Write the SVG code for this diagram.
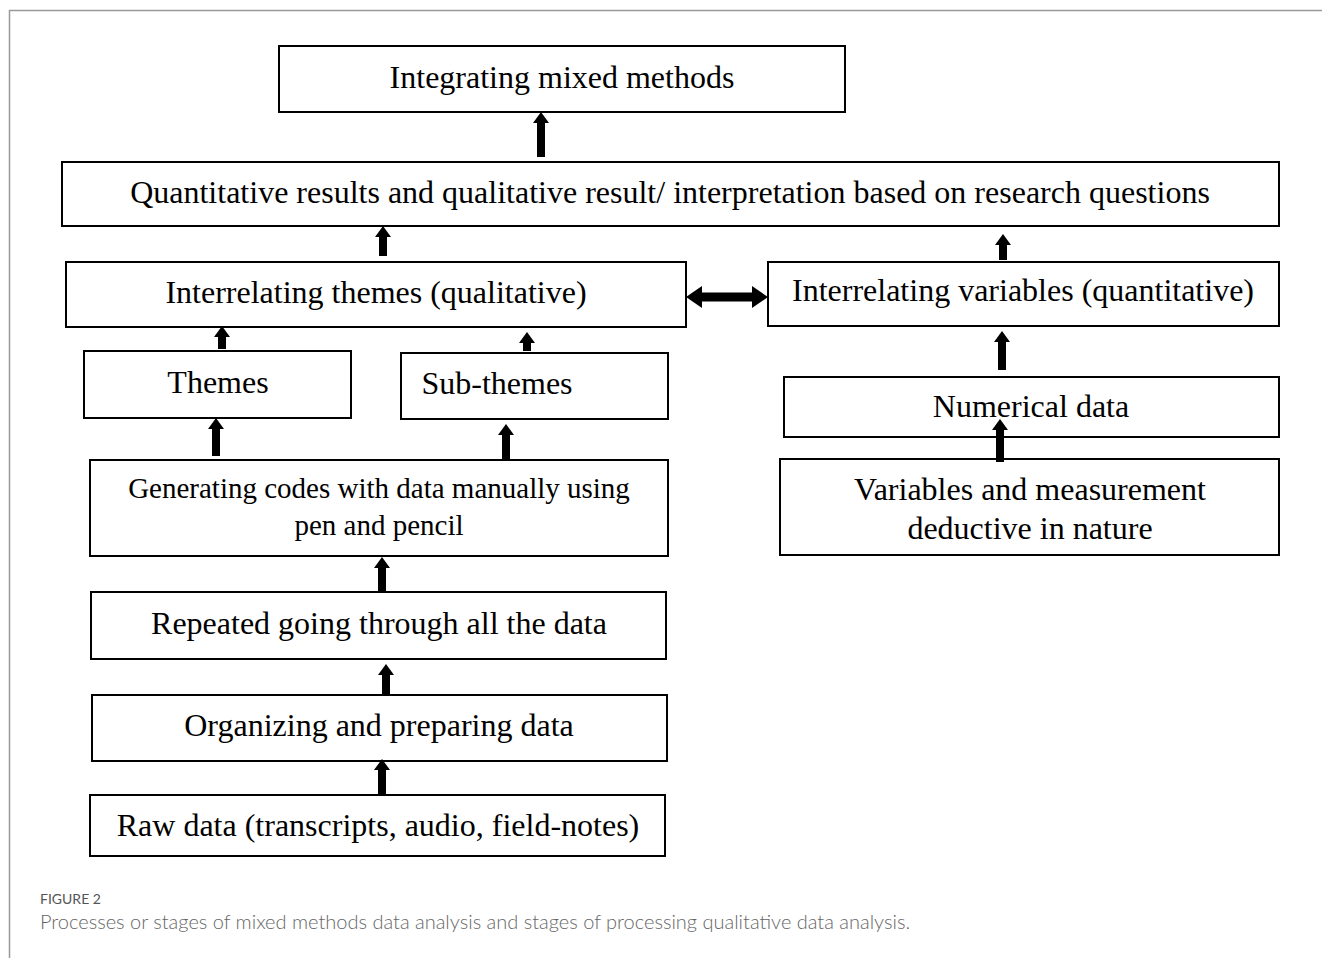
<svg xmlns="http://www.w3.org/2000/svg" width="1322" height="958" viewBox="0 0 1322 958">
<style>
.box{fill:#fff;stroke:#000;stroke-width:2}
.t{font-family:"Liberation Serif","Times New Roman",serif;font-size:32px;fill:#000;text-anchor:middle}
.s{font-size:29px}
.arr{stroke:#000;stroke-width:8;fill:none;marker-end:url(#head)}
.dbl{stroke:#000;stroke-width:9;fill:none;marker-end:url(#head2);marker-start:url(#head2)}
.cap1{font-family:Lato,"Open Sans",sans-serif;font-size:14px;fill:#555}
.cap2{font-family:Lato,"Open Sans",sans-serif;font-size:20px;fill:#666;font-weight:300}
</style>
<defs>
<marker id="head" viewBox="0 -8 11 16" refX="0" refY="0" markerWidth="11" markerHeight="16" markerUnits="userSpaceOnUse" orient="auto-start-reverse">
<path d="M0,-8 L11,0 L0,8 z" fill="#000"/>
</marker>
<marker id="head2" viewBox="0 -11 16 22" refX="0" refY="0" markerWidth="16" markerHeight="22" markerUnits="userSpaceOnUse" orient="auto-start-reverse">
<path d="M0,-11 L16,0 L0,11 z" fill="#000"/>
</marker>
</defs>
<rect width="1322" height="958" fill="#fff"/>
<path d="M9.5,958 V10.5 H1322" fill="none" stroke="#999" stroke-width="1.5"/>

<g id="n1"><rect class="box" x="279" y="46" width="566" height="66"/><text class="t" x="562" y="88">Integrating mixed methods</text></g>
<g id="n2"><rect class="box" x="62" y="162" width="1217" height="64"/><text class="t" x="670" y="203">Quantitative results and qualitative result/ interpretation based on research questions</text></g>
<g id="n3"><rect class="box" x="66" y="262" width="620" height="65"/><text class="t" x="376" y="303">Interrelating themes (qualitative)</text></g>
<g id="n4"><rect class="box" x="768" y="262" width="511" height="64"/><text class="t" x="1023" y="301">Interrelating variables (quantitative)</text></g>
<g id="n5"><rect class="box" x="84" y="351" width="267" height="67"/><text class="t" x="218" y="393">Themes</text></g>
<g id="n6"><rect class="box" x="401" y="353" width="267" height="66"/><text class="t" x="497" y="394">Sub-themes</text></g>
<g id="n7"><rect class="box" x="784" y="377" width="495" height="60"/><text class="t" x="1031" y="417">Numerical data</text></g>
<g id="n8"><rect class="box" x="90" y="460" width="578" height="96"/><text class="t s" x="379" y="498">Generating codes with data manually using</text><text class="t s" x="379" y="535">pen and pencil</text></g>
<g id="n9"><rect class="box" x="780" y="459" width="499" height="96"/><text class="t" x="1030" y="500">Variables and measurement</text><text class="t" x="1030" y="539">deductive in nature</text></g>
<g id="n10"><rect class="box" x="91" y="592" width="575" height="67"/><text class="t" x="379" y="634">Repeated going through all the data</text></g>
<g id="n11"><rect class="box" x="92" y="695" width="575" height="66"/><text class="t" x="379" y="736">Organizing and preparing data</text></g>
<g id="n12"><rect class="box" x="90" y="795" width="575" height="61"/><text class="t" x="378" y="836">Raw data (transcripts, audio, field-notes)</text></g>

<g id="connectors">
<line class="arr" x1="541" y1="157" x2="541" y2="123"/>
<line class="arr" x1="383" y1="256" x2="383" y2="237"/>
<line class="arr" x1="1003" y1="260" x2="1003" y2="245"/>
<line class="arr" x1="222" y1="349" x2="222" y2="337"/>
<line class="arr" x1="527" y1="351" x2="527" y2="343"/>
<line class="arr" x1="1002" y1="370" x2="1002" y2="342"/>
<line class="arr" x1="216" y1="456" x2="216" y2="429"/>
<line class="arr" x1="506" y1="460" x2="506" y2="435"/>
<line class="arr" x1="1000" y1="462" x2="1000" y2="430"/>
<line class="arr" x1="382" y1="592" x2="382" y2="568"/>
<line class="arr" x1="386" y1="694" x2="386" y2="675"/>
<line class="arr" x1="382" y1="795" x2="382" y2="770"/>
<line class="dbl" x1="702" y1="297" x2="752" y2="297"/>
</g>

<text class="cap1" x="40" y="904">FIGURE 2</text>
<text class="cap2" x="40" y="929">Processes or stages of mixed methods data analysis and stages of processing qualitative data analysis.</text>
</svg>
